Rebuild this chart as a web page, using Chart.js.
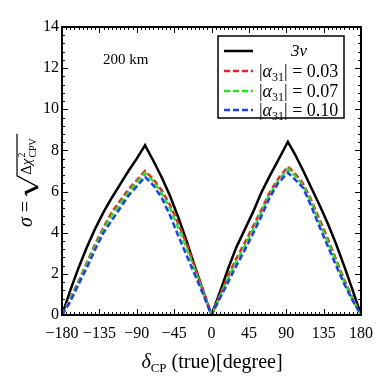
<!DOCTYPE html>
<html>
<head>
<meta charset="utf-8">
<script src="https://cdn.jsdelivr.net/npm/chart.js@4.4.1/dist/chart.umd.min.js"></script>
<style>
  html, body { margin: 0; padding: 0; background: #fff; }
  #wrap { width: 376px; height: 376px; }
</style>
</head>
<body>
<div id="wrap"><canvas id="sigmaCanvas" width="376" height="376"></canvas></div>
<script>
// delta_CP (true) in degrees
var deltaCP = [-180, -170, -160, -150, -140, -130, -120, -110, -100, -90, -80, -70, -60, -50, -40, -30, -20, -10, 0,
               10, 20, 30, 40, 50, 60, 70, 80, 92, 100, 110, 120, 130, 140, 150, 160, 170, 180];

var sigma3nu = [0, 1.2, 2.3, 3.3, 4.2, 5.0, 5.7, 6.35, 7.0, 7.6, 8.25, 7.5, 6.7, 5.8, 4.75, 3.6, 2.35, 1.15, 0,
                1.1, 2.25, 3.3, 4.15, 5.0, 5.95, 6.75, 7.5, 8.42, 7.85, 7.05, 6.2, 5.35, 4.45, 3.45, 2.35, 1.2, 0];
var sigmaA003 = [0, 0.8, 1.65, 2.55, 3.45, 4.25, 5.0, 5.55, 6.1, 6.55, 7.0, 6.6, 6.05, 5.35, 4.45, 3.45, 2.35, 1.2, 0,
                 0.95, 1.9, 2.75, 3.5, 4.3, 5.1, 5.95, 6.6, 7.21, 6.9, 6.4, 5.6, 4.65, 3.7, 2.7, 1.7, 0.8, 0];
var sigmaA007 = [0, 0.75, 1.6, 2.45, 3.35, 4.15, 4.85, 5.4, 5.95, 6.45, 6.9, 6.5, 5.9, 5.2, 4.25, 3.25, 2.2, 1.1, 0,
                 0.9, 1.8, 2.6, 3.35, 4.15, 5.0, 5.85, 6.5, 7.1, 6.8, 6.3, 5.5, 4.5, 3.55, 2.6, 1.6, 0.75, 0];
var sigmaA010 = [0, 0.65, 1.5, 2.3, 3.2, 4.0, 4.6, 5.2, 5.8, 6.25, 6.72, 6.3, 5.7, 4.85, 3.85, 2.9, 1.95, 1.0, 0,
                 0.8, 1.6, 2.4, 3.15, 3.95, 4.8, 5.7, 6.4, 6.92, 6.6, 6.2, 5.3, 4.3, 3.35, 2.4, 1.5, 0.7, 0];

var legendAlphas = ["0.03", "0.07", "0.10"];
var baselineLabel = "3\u03BD";
var distanceLabel = "200 km";

var serif = "'Liberation Serif', 'DejaVu Serif', serif";

function toPoints(ys) {
    return deltaCP.map(function (d, i) { return { x: d, y: ys[i] }; });
}

// draws border, inward ticks, titles and the boxed legend
var framePlugin = {
    id: 'frame',
    afterDraw: function (chart) {
        var ctx = chart.ctx;
        var a = chart.chartArea;
        var xs = chart.scales.x, ys = chart.scales.y;
        ctx.save();
        ctx.strokeStyle = '#000';
        ctx.lineWidth = 1;

        // inward ticks on all four sides
        var v, p, len;
        for (v = -180; v <= 180; v += 5) {
            p = Math.round(xs.getPixelForValue(v)) + 0.5;
            len = (v % 45 === 0) ? 6 : 3;
            ctx.beginPath();
            ctx.moveTo(p, a.bottom); ctx.lineTo(p, a.bottom - len);
            ctx.moveTo(p, a.top); ctx.lineTo(p, a.top + len);
            ctx.stroke();
        }
        for (var k = 0; k <= 35; k++) {
            v = k * 0.4;
            p = Math.round(ys.getPixelForValue(v)) + 0.5;
            len = (k % 5 === 0) ? 6 : 3;
            ctx.beginPath();
            ctx.moveTo(a.left, p); ctx.lineTo(a.left + len, p);
            ctx.moveTo(a.right, p); ctx.lineTo(a.right - len, p);
            ctx.stroke();
        }

        ctx.lineWidth = 2;
        ctx.strokeRect(a.left, a.top, a.right - a.left, a.bottom - a.top);

        // distance text
        ctx.fillStyle = '#000';
        ctx.textBaseline = 'alphabetic';
        ctx.textAlign = 'left';
        ctx.font = '15px ' + serif;
        ctx.fillText(distanceLabel, 103, 64);

        // legend box
        ctx.fillStyle = '#fff';
        ctx.fillRect(218, 36, 126, 82);
        ctx.lineWidth = 1.5;
        ctx.strokeRect(218, 36, 126, 82);
        var rows = [51, 71, 91, 110];
        var cols = ['#000', '#ff1a1a', '#1aee1a', '#1a3cff'];
        for (var r = 0; r < 4; r++) {
            ctx.strokeStyle = cols[r];
            ctx.lineWidth = 2.5;
            ctx.setLineDash(r === 0 ? [] : [6, 3]);
            ctx.beginPath();
            ctx.moveTo(224, rows[r]); ctx.lineTo(253, rows[r]);
            ctx.stroke();
        }
        ctx.setLineDash([]);
        ctx.strokeStyle = '#000';
        ctx.fillStyle = '#000';
        ctx.textAlign = 'center';
        ctx.font = 'italic 17px ' + serif;
        ctx.fillText(baselineLabel, 299, 56);
        ctx.textAlign = 'left';
        for (r = 0; r < 3; r++) {
            var y0 = rows[r + 1] + 6;
            var x0 = 259;
            ctx.font = '18px ' + serif;
            ctx.fillText('|', x0, y0); x0 += ctx.measureText('|').width;
            ctx.font = 'italic 18px ' + serif;
            ctx.fillText('\u03B1', x0, y0); x0 += ctx.measureText('\u03B1').width;
            ctx.font = '12px ' + serif;
            ctx.fillText('31', x0, y0 + 4); x0 += ctx.measureText('31').width;
            ctx.font = '18px ' + serif;
            ctx.fillText('| = ' + legendAlphas[r], x0, y0);
        }

        // x axis title
        var parts = [
            { t: '\u03B4', f: 'italic 20px ', dy: 0 },
            { t: 'CP', f: '13px ', dy: 4 },
            { t: ' (true)[degree]', f: '20px ', dy: 0 }
        ];
        var w = 0, i;
        for (i = 0; i < parts.length; i++) { ctx.font = parts[i].f + serif; w += ctx.measureText(parts[i].t).width; }
        var xx = 212 - w / 2;
        for (i = 0; i < parts.length; i++) {
            ctx.font = parts[i].f + serif;
            ctx.fillText(parts[i].t, xx, 368 + parts[i].dy);
            xx += ctx.measureText(parts[i].t).width;
        }

        // y axis title, rotated
        ctx.translate(32, 177);
        ctx.rotate(-Math.PI / 2);
        var xp = -50;
        ctx.font = 'italic 20px ' + serif;
        ctx.fillText('\u03C3', xp, 0); xp += ctx.measureText('\u03C3').width;
        ctx.font = '20px ' + serif;
        ctx.fillText(' = ', xp, 0); xp += ctx.measureText(' = ').width;
        // radical sign
        var rx = xp;
        ctx.lineWidth = 1.2;
        ctx.beginPath();
        ctx.moveTo(rx, -5); ctx.lineTo(rx + 3, -7);
        ctx.stroke();
        ctx.lineWidth = 2.8;
        ctx.beginPath();
        ctx.moveTo(rx + 3, -7); ctx.lineTo(rx + 9, 6);
        ctx.stroke();
        ctx.lineWidth = 1.2;
        ctx.beginPath();
        ctx.moveTo(rx + 9, 6); ctx.lineTo(rx + 20, -15);
        ctx.lineTo(rx + 62, -15);
        ctx.stroke();
        xp = rx + 21;
        ctx.font = '15px ' + serif;
        ctx.fillText('\u0394', xp, -1); xp += ctx.measureText('\u0394').width;
        ctx.font = 'italic 15px ' + serif;
        ctx.fillText('\u03C7', xp, -1); xp += ctx.measureText('\u03C7').width + 1;
        ctx.font = '10px ' + serif;
        ctx.fillText('2', xp, -7);
        ctx.fillText('CPV', xp, 4);
        ctx.restore();
    }
};

var canvas1 = document.getElementById('sigmaCanvas');

var sigmaChart = new Chart(canvas1, {
    type: 'line',
    data: {
        datasets: [{
            label: '3nu',
            data: toPoints(sigma3nu),
            borderColor: '#000',
            borderWidth: 2.5,
            order: 4
        }, {
            label: 'a31 = 0.03',
            data: toPoints(sigmaA003),
            borderColor: '#ff1a1a',
            borderWidth: 2.5,
            borderDash: [6, 3],
            order: 3
        }, {
            label: 'a31 = 0.07',
            data: toPoints(sigmaA007),
            borderColor: '#1aee1a',
            borderWidth: 2.5,
            borderDash: [6, 3],
            order: 2
        }, {
            label: 'a31 = 0.10',
            data: toPoints(sigmaA010),
            borderColor: '#1a3cff',
            borderWidth: 2.5,
            borderDash: [6, 3],
            order: 1
        }]
    },
    options: {
        responsive: false,
        animation: false,
        devicePixelRatio: 1,
        elements: {
            point: { radius: 0 },
            line: { tension: 0, fill: false }
        },
        layout: { padding: { left: 0, top: 27, right: 15, bottom: 0 } },
        plugins: {
            legend: { display: false },
            tooltip: { enabled: false }
        },
        scales: {
            x: {
                type: 'linear',
                min: -180,
                max: 180,
                grid: { display: false, drawTicks: false },
                border: { display: false },
                ticks: {
                    stepSize: 45,
                    padding: 9,
                    color: '#000',
                    maxRotation: 0,
                    autoSkip: false,
                    font: { family: serif, size: 16 },
                    callback: function (val) { return String(val).replace('-', '\u2212'); }
                },
                afterFit: function (scale) {
                    scale.height = 61;
                    scale.paddingLeft = 0;
                    scale.paddingRight = 0;
                }
            },
            y: {
                min: 0,
                max: 14,
                grid: { display: false, drawTicks: false },
                border: { display: false },
                ticks: {
                    stepSize: 2,
                    padding: 3,
                    color: '#000',
                    font: { family: serif, size: 16 }
                },
                afterFit: function (scale) {
                    scale.width = 62;
                    scale.paddingTop = 0;
                    scale.paddingBottom = 0;
                }
            }
        }
    },
    plugins: [framePlugin]
});
</script>
</body>
</html>
